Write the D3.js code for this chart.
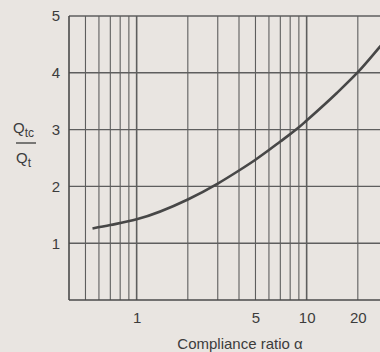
<!DOCTYPE html>
<html>
<head>
<meta charset="utf-8">
<script src="https://cdn.jsdelivr.net/npm/d3@7"></script>
<style>
  html, body { margin: 0; padding: 0; background: #e9e5e1; }
  svg { display: block; font-family: 'Liberation Sans', Arial, sans-serif; }
</style>
</head>
<body>
<div id="chart"></div>
<script>
// Compliance ratio (x, log) and Qtc/Qt
const alpha = [0.55, 0.7, 1, 2, 3, 4, 5, 6, 7, 8, 9, 10, 15, 20, 27, 30];
const q_ratio = [1.26, 1.32, 1.42, 1.77, 2.05, 2.28, 2.47, 2.64, 2.79, 2.92, 3.04, 3.16, 3.64, 4.01, 4.46, 4.62];

// grid lines and labels
const x_grid = [0.5, 0.6, 0.7, 0.8, 0.9, 1, 2, 3, 4, 5, 6, 7, 8, 9, 10, 20, 30];
const x_labels = [1, 5, 10, 20];
const y_grid = [1, 2, 3, 4, 5];
const y_labels = [1, 2, 3, 4, 5];

const W = 380, H = 352;
const margin = { left: 69, top: 16, bottom: 52 };
const height = H - margin.top - margin.bottom;
const ink = '#3c3c3c';
const grid = '#5e5e5e';

const svg = d3.select('#chart')
  .append('svg')
  .attr('width', W)
  .attr('height', H);

const g = svg.append('g')
  .attr('transform', `translate(${margin.left}, ${margin.top})`);

// 170px per decade, left edge at 0.4
const x = d3.scaleLog().domain([0.4, 30]).range([0, 170 * Math.log10(30 / 0.4)]);
const y = d3.scaleLinear().domain([0, 5]).range([height, 0]);

// vertical grid
g.append('g')
  .selectAll('line')
  .data(x_grid)
  .join('line')
  .attr('x1', d => x(d)).attr('x2', d => x(d))
  .attr('y1', y(0)).attr('y2', y(5))
  .attr('stroke', grid)
  .attr('stroke-width', d => (d === 1 || d === 10) ? 1.6 : 1.1);

// horizontal grid
g.append('g')
  .selectAll('line')
  .data(y_grid)
  .join('line')
  .attr('x1', 0).attr('x2', W)
  .attr('y1', d => y(d)).attr('y2', d => y(d))
  .attr('stroke', grid)
  .attr('stroke-width', 1.4);

// frame: left and bottom
g.append('line')
  .attr('x1', 0).attr('x2', 0)
  .attr('y1', y(0)).attr('y2', y(5))
  .attr('stroke', '#4a4a4a').attr('stroke-width', 1.6);
g.append('line')
  .attr('x1', 0).attr('x2', W)
  .attr('y1', y(0)).attr('y2', y(0))
  .attr('stroke', '#4a4a4a').attr('stroke-width', 1.6);

// x axis labels
const x_axis = d3.axisBottom(x)
  .tickValues(x_labels)
  .tickFormat(d3.format('d'))
  .tickSize(0)
  .tickPadding(12);
g.append('g')
  .attr('transform', `translate(0, ${height})`)
  .call(x_axis)
  .call(a => a.select('.domain').remove())
  .selectAll('text')
  .attr('fill', ink)
  .style('font-size', '15px');

// y axis labels
const y_axis = d3.axisLeft(y)
  .tickValues(y_labels)
  .tickFormat(d3.format('d'))
  .tickSize(0)
  .tickPadding(9);
g.append('g')
  .call(y_axis)
  .call(a => a.select('.domain').remove())
  .selectAll('text')
  .attr('fill', ink)
  .style('font-size', '15px');

// curve
g.append('path')
  .datum(alpha.map((a, i) => [a, q_ratio[i]]))
  .attr('d', d3.line()
    .x(d => x(d[0]))
    .y(d => y(d[1]))
    .curve(d3.curveMonotoneX))
  .attr('fill', 'none')
  .attr('stroke', '#474747')
  .attr('stroke-width', 2.6);

// x title
svg.append('text')
  .attr('x', 240)
  .attr('y', 349)
  .attr('text-anchor', 'middle')
  .attr('fill', ink)
  .style('font-size', '15px')
  .text('Compliance ratio \u03b1');

// y title as a fraction Qtc / Qt
const yt = svg.append('g').attr('fill', ink).style('font-size', '15px');
const top_t = yt.append('text').attr('x', 13).attr('y', 133);
top_t.append('tspan').text('Q');
top_t.append('tspan').attr('dy', 4).style('font-size', '12px').text('tc');
yt.append('line')
  .attr('x1', 16).attr('x2', 36)
  .attr('y1', 143).attr('y2', 143)
  .attr('stroke', ink).attr('stroke-width', 1.3);
const bot_t = yt.append('text').attr('x', 16).attr('y', 163);
bot_t.append('tspan').text('Q');
bot_t.append('tspan').attr('dy', 4).style('font-size', '12px').text('t');
</script>
</body>
</html>
